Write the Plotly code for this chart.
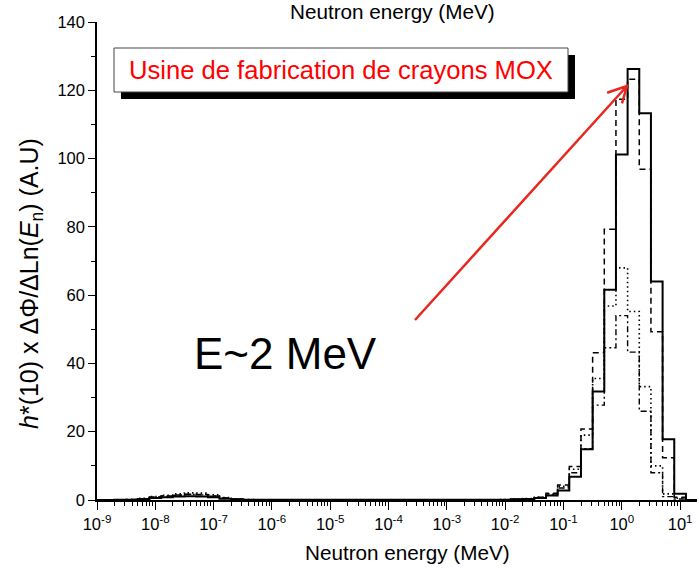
import numpy as np
import plotly.graph_objects as go

# ---- data (bin centres in log10(E/MeV), 5 bins per decade) ----
log_e_centers = [round(-9.0 + 0.2 * i, 1) for i in range(52)]

solid_vals = [0, 0, 0.05, 0.1, 0.3, 0.6, 0.8, 1.0, 1.1, 1.0, 0.8, 0.4, 0.2, 0.1, 0.05,
              0.05, 0.05, 0.05, 0.05, 0.05, 0.05, 0.05, 0.05, 0.05, 0.05,
              0.05, 0.05, 0.05, 0.05, 0.05, 0.05, 0.05, 0.05, 0.05, 0.05,
              0.1, 0.2, 0.3, 0.6, 1.3, 2.8, 6.8, 14.9, 31.8, 61.6, 101.2, 126.2, 113.3, 64.0, 17.8, 1.8, 0]
dashed_vals = [0, 0, 0.05, 0.15, 0.4, 0.9, 1.2, 1.5, 1.7, 1.6, 1.2, 0.6, 0.3, 0.1, 0.05,
               0.05, 0.05, 0.05, 0.05, 0.05, 0.05, 0.05, 0.05, 0.05, 0.05,
               0.05, 0.05, 0.05, 0.05, 0.05, 0.05, 0.05, 0.05, 0.05, 0.05,
               0.1, 0.2, 0.4, 0.8, 2.0, 4.4, 9.8, 20.8, 43.1, 79.3, 117.4, 123.2, 96.9, 49.3, 12.4, 0.8, 0]
dotted_vals = [0, 0, 0.05, 0.15, 0.5, 1.0, 1.4, 1.8, 2.1, 2.0, 1.5, 0.7, 0.3, 0.1, 0.05,
               0.05, 0.05, 0.05, 0.05, 0.05, 0.05, 0.05, 0.05, 0.05, 0.05,
               0.05, 0.05, 0.05, 0.05, 0.05, 0.05, 0.05, 0.05, 0.05, 0.05,
               0.1, 0.2, 0.4, 0.8, 1.8, 4.0, 9.0, 19.0, 35.6, 56.8, 68.0, 55.2, 33.2, 10.0, 1.8, 0.5, 0]
dashdot_vals = [0, 0, 0.05, 0.1, 0.3, 0.8, 1.1, 1.4, 1.6, 1.5, 1.1, 0.5, 0.2, 0.1, 0.05,
                0.05, 0.05, 0.05, 0.05, 0.05, 0.05, 0.05, 0.05, 0.05, 0.05,
                0.05, 0.05, 0.05, 0.05, 0.05, 0.05, 0.05, 0.05, 0.05, 0.05,
                0.1, 0.2, 0.3, 0.7, 1.5, 3.5, 8.0, 15.0, 27.8, 44.6, 54.0, 43.3, 26.0, 8.0, 1.0, 0.3, 0]

x_tick_exps = [-9, -8, -7, -6, -5, -4, -3, -2, -1, 0, 1]
x_tick_labels = ["10<sup>%d</sup>" % e for e in x_tick_exps]
y_tick_vals = [0, 20, 40, 60, 80, 100, 120, 140]

# ---- layout geometry ----
W, H = 699, 570
ML, MR, MT, MB = 97, 2, 22, 70
PW, PH = W - ML - MR, H - MT - MB
FONT = "Liberation Sans, Arial, sans-serif"


def px(xp):
    return (xp - ML) / PW


def py(yp):
    return (H - MB - yp) / PH


half = 0.1
edges = [10 ** (c - half) for c in log_e_centers] + [10 ** (log_e_centers[-1] + half)]

fig = go.Figure()
styles = [
    (dashdot_vals, "6px,3px,2px,3px", 1.4),
    (dotted_vals, "1.5px,3px", 1.6),
    (dashed_vals, "6px,4px", 1.5),
    (solid_vals, "solid", 2.0),
]
for vals, dash, w in styles:
    fig.add_trace(go.Scatter(
        x=edges, y=list(vals) + [vals[-1]], mode="lines", line_shape="hv",
        line=dict(color="black", width=w, dash=dash), showlegend=False,
        hoverinfo="skip"))

axis_common = dict(showgrid=False, zeroline=False, showline=True, linecolor="black",
                   linewidth=1.5, ticks="outside", tickcolor="black", tickwidth=1.2,
                   tickfont=dict(family=FONT, size=16.5, color="black"))

fig.update_xaxes(type="log", range=[-9, 1.29], tickvals=[10 ** e for e in x_tick_exps],
                 ticktext=x_tick_labels, ticklen=8,
                 minor=dict(ticks="outside", ticklen=4, tickcolor="black", tickwidth=1.2, dtick="D1"),
                 mirror=False, **axis_common)
fig.update_yaxes(range=[0, 140], tickvals=y_tick_vals, ticklen=7,
                 minor=dict(ticks="outside", ticklen=4, tickcolor="black", tickwidth=1.2, dtick=10),
                 **axis_common)

# box with shadow
shadow = 7
bx0, bx1, by0, by1 = 114, 568, 48, 92
shapes = [
    dict(type="rect", xref="paper", yref="paper", x0=px(bx0 + shadow), x1=px(bx1 + shadow),
         y0=py(by1 + shadow), y1=py(by0 + shadow), fillcolor="black", line=dict(width=0), layer="above"),
    dict(type="rect", xref="paper", yref="paper", x0=px(bx0), x1=px(bx1),
         y0=py(by1), y1=py(by0), fillcolor="white", line=dict(color="#444", width=1), layer="above"),
]

# red arrow
tail = np.array([415.0, 320.0])
tip = np.array([627.0, 86.0])
d = (tail - tip) / np.linalg.norm(tail - tip)
def rot(v, a):
    c, s = np.cos(a), np.sin(a)
    return np.array([c * v[0] - s * v[1], s * v[0] + c * v[1]])
arm1 = tip + rot(d, np.radians(29)) * 21
arm2 = tip + rot(d, np.radians(-26)) * 18
path = "M %f %f L %f %f M %f %f L %f %f L %f %f" % (
    px(tail[0]), py(tail[1]), px(tip[0]), py(tip[1]),
    px(arm1[0]), py(arm1[1]), px(tip[0]), py(tip[1]), px(arm2[0]), py(arm2[1]))
shapes.append(dict(type="path", xref="paper", yref="paper", path=path,
                   line=dict(color="#e8281e", width=2.5), layer="above"))

annotations = [
    dict(text="Usine de fabrication de crayons MOX", xref="paper", yref="paper",
         x=px((bx0 + bx1) / 2), y=py((by0 + by1) / 2), showarrow=False,
         font=dict(family=FONT, size=25.6, color="#ff0000"), xanchor="center", yanchor="middle"),
    dict(text="E~2 MeV", xref="paper", yref="paper", x=px(285), y=py(353), showarrow=False,
         font=dict(family=FONT, size=44, color="black"), xanchor="center", yanchor="middle"),
    dict(text="Neutron energy (MeV)", xref="paper", yref="paper", x=px(392), y=py(11),
         showarrow=False, font=dict(family=FONT, size=20.7, color="black"),
         xanchor="center", yanchor="middle"),
    dict(text="Neutron energy (MeV)", xref="paper", yref="paper", x=px(407), y=py(552),
         showarrow=False, font=dict(family=FONT, size=20.7, color="black"),
         xanchor="center", yanchor="middle"),
    dict(text="<i>h</i>*(10) x ΔΦ/ΔLn(<i>E</i><sub>n</sub>) (A.U)", xref="paper", yref="paper",
         x=px(31), y=py(284), showarrow=False, textangle=-90,
         font=dict(family=FONT, size=25, color="black"), xanchor="center", yanchor="middle"),
]

fig.update_layout(width=W, height=H, margin=dict(l=ML, r=MR, t=MT, b=MB),
                  paper_bgcolor="white", plot_bgcolor="white",
                  shapes=shapes, annotations=annotations,
                  font=dict(family=FONT, color="black"))

fig.write_html("out.html")
